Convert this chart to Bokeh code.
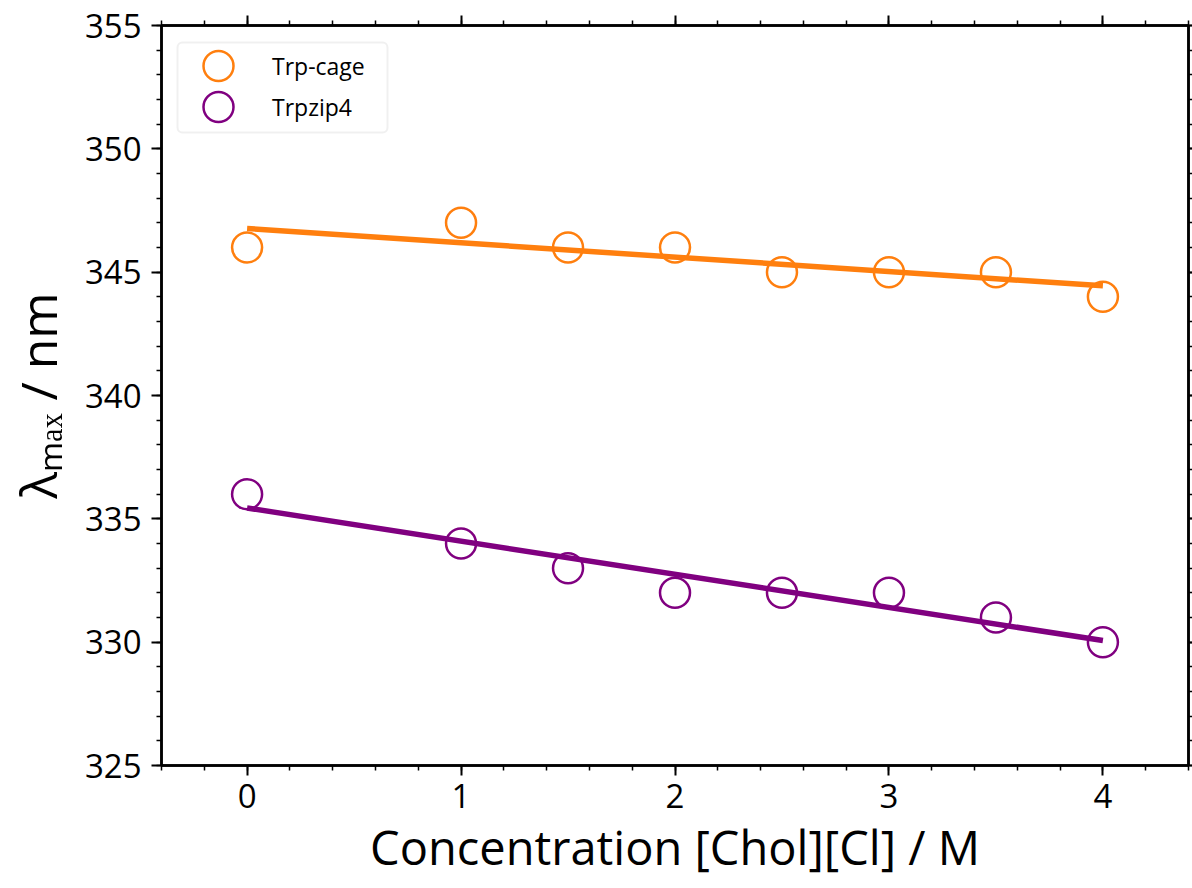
import numpy as np
from bokeh.plotting import figure
from bokeh.models import (LinearAxis, SingleIntervalTicker, Legend, LegendItem,
                          Range1d, BoxAnnotation, CustomJSTickFormatter)
from bokeh.embed import file_html
from bokeh.resources import INLINE

# ---- data ----
conc = [0, 1, 1.5, 2, 2.5, 3, 3.5, 4]
trp_cage = [346, 347, 346, 346, 345, 345, 345, 344]
trpzip4 = [336, 334, 333, 332, 332, 332, 331, 330]
series_names = ["Trp-cage", "Trpzip4"]
series_values = [trp_cage, trpzip4]
series_colors = ["#ff7f0e", "#800080"]
x_label = "Concentration [Chol][Cl] / M"
y_label = "λₘₐₓ / nm"

FONT = "Open Sans"

p = figure(width=1192, height=888,
           x_range=Range1d(-0.4, 4.4), y_range=Range1d(325, 355),
           output_backend="svg", toolbar_location=None,
           min_border_left=160, min_border_right=0,
           min_border_top=25, min_border_bottom=123)
p.background_fill_color = "white"
p.border_fill_color = "white"
p.outline_line_color = "black"
p.outline_line_width = 2.5
p.xgrid.visible = False
p.ygrid.visible = False

xt = SingleIntervalTicker(interval=1, num_minor_ticks=5)
yt = SingleIntervalTicker(interval=5, num_minor_ticks=5)

def style(ax, labels=True, tick_out=10, minor_out=5):
    ax.axis_line_color = "black"
    ax.axis_line_width = 2.5
    ax.major_tick_line_width = 2
    ax.minor_tick_line_width = 1.5
    ax.major_tick_in = 0
    ax.major_tick_out = tick_out
    ax.minor_tick_in = 0
    ax.minor_tick_out = minor_out
    if labels:
        ax.major_label_text_font = FONT
        ax.major_label_text_font_size = "33px"
        ax.major_label_text_color = "black"
    else:
        ax.formatter = CustomJSTickFormatter(code="return ''")
        ax.major_label_text_font_size = "1px"
        ax.major_label_standoff = 0

xa = p.xaxis[0]
xa.ticker = xt
style(xa)
xa.major_label_standoff = 8
xa.axis_label = x_label
xa.axis_label_text_font = FONT
xa.axis_label_text_font_size = "47px"
xa.axis_label_text_font_style = "normal"
xa.axis_label_text_color = "black"
xa.axis_label_standoff = 4

ya = p.yaxis[0]
ya.ticker = yt
style(ya)
ya.major_label_standoff = 10
ya.axis_label = y_label
ya.axis_label_text_font = FONT
ya.axis_label_text_font_size = "50px"
ya.axis_label_text_font_style = "normal"
ya.axis_label_text_color = "black"
ya.axis_label_standoff = 10

top = LinearAxis(ticker=xt)
style(top, labels=False)
p.add_layout(top, "above")
right = LinearAxis(ticker=yt)
style(right, labels=False, tick_out=4, minor_out=4)
p.add_layout(right, "right")

renderers = []
for name, vals, col in zip(series_names, series_values, series_colors):
    r = p.scatter(conc, vals, size=30, marker="circle", fill_color=None,
                  line_color=col, line_width=2.5)
    slope, icpt = np.polyfit(conc, vals, 1)
    xs = [min(conc), max(conc)]
    p.line(xs, [icpt + slope * x for x in xs], line_color=col, line_width=5.5)
    renderers.append(r)

# legend frame
frame = BoxAnnotation(left=177, right=387, top=42, bottom=132,
                      left_units="canvas", right_units="canvas",
                      top_units="canvas", bottom_units="canvas",
                      fill_color="white", fill_alpha=0.8,
                      line_color="#cccccc", line_width=2, border_radius=5)
p.add_layout(frame)

# one legend per entry so the circles can be drawn at full size
legend_locs = [(17, 662), (17, 621)]
for name, r, loc in zip(series_names, renderers, legend_locs):
    lg = Legend(items=[LegendItem(label=name, renderers=[r])], location=loc)
    lg.margin = 0
    lg.padding = 0
    lg.glyph_width = 80
    lg.glyph_height = 75
    lg.label_standoff = 14
    lg.label_text_font = FONT
    lg.label_text_font_size = "23px"
    lg.label_text_color = "black"
    lg.border_line_alpha = 0
    lg.background_fill_alpha = 0
    p.add_layout(lg, "center")

open("out.html", "w").write(file_html(p, INLINE))
